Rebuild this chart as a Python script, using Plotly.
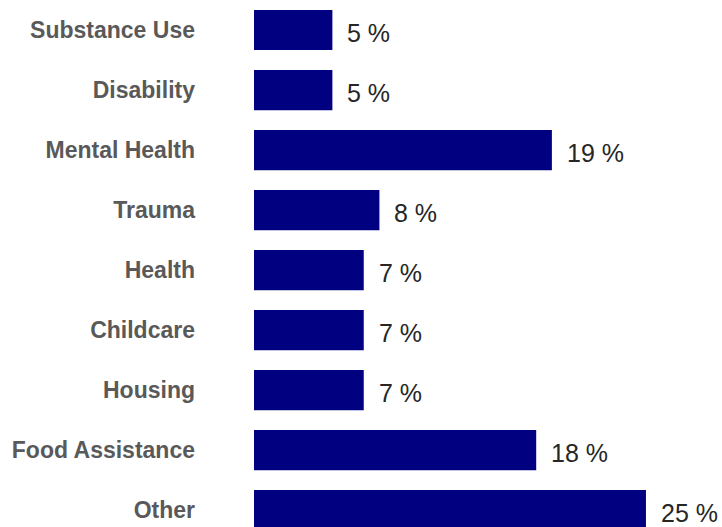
import plotly.graph_objects as go

# Share of referrals by need category (percent)
categories = ["Substance Use", "Disability", "Mental Health", "Trauma", "Health",
              "Childcare", "Housing", "Food Assistance", "Other"]
percentages = [5, 5, 19, 8, 7, 7, 7, 18, 25]

BAR_COLOR = "#000080"
FONT = "Liberation Sans, Arial, sans-serif"

fig = go.Figure(
    go.Bar(
        x=percentages,
        y=categories,
        orientation="h",
        marker=dict(color=BAR_COLOR, line=dict(width=0)),
        hoverinfo="skip",
    )
)

# Value labels placed just past the end of each bar
for cat, val in zip(categories, percentages):
    fig.add_annotation(
        x=val, y=cat, text=f"{val} %", showarrow=False,
        xanchor="left", yanchor="middle", xshift=13, yshift=-3,
        font=dict(family=FONT, size=25, color="#262626"),
    )

fig.update_layout(
    width=722, height=527,
    margin=dict(l=254, r=0, t=0, b=0),
    paper_bgcolor="white", plot_bgcolor="white",
    bargap=0.33,
    showlegend=False,
    xaxis=dict(range=[0, 29.85], visible=False, fixedrange=True),
    yaxis=dict(
        type="category",
        categoryorder="array", categoryarray=categories,
        range=[8.28, -0.5],
        showgrid=False, zeroline=False, showline=False, ticks="",
        ticklabelstandoff=58,
        tickfont=dict(family=FONT, size=23, color="#595959", weight="bold"),
        fixedrange=True,
    ),
)

fig.write_html("out.html")
